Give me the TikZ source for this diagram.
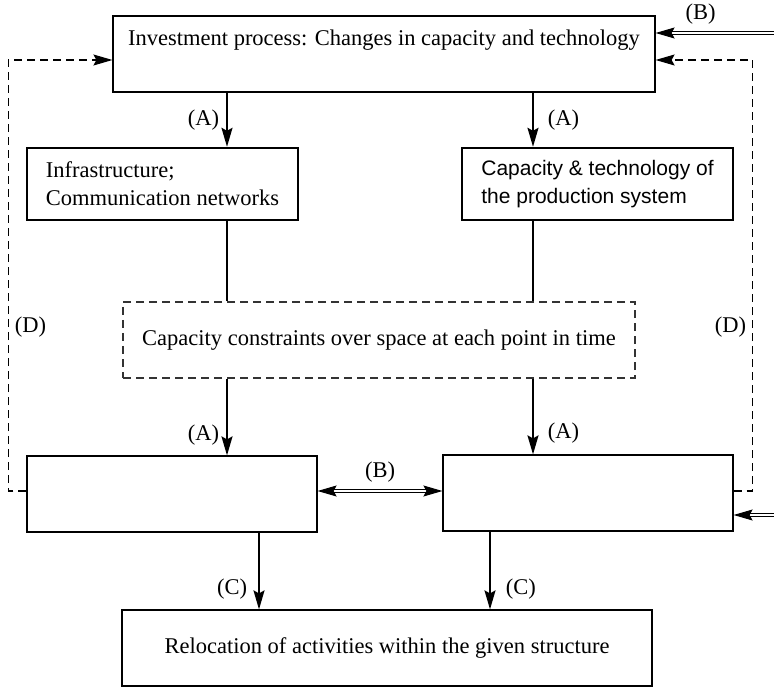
\documentclass[tikz,border=0pt]{standalone}
\usepackage{fontspec}
\setmainfont{Liberation Serif}
\setsansfont{Liberation Sans}
\usetikzlibrary{arrows.meta,positioning}

\begin{document}
\begin{tikzpicture}[
    x=1pt, y=-1pt,
    box/.style={draw, line width=1.2pt, minimum width=#1, minimum height=76pt, inner sep=0pt, align=center, font=\fontsize{22.5}{28}\selectfont},
    heavy/.style={line width=2.4pt, minimum height=72pt, align=left},
    lbl/.style={font=\fontsize{22.5}{28}\selectfont, inner sep=2pt},
    arr/.style={-{Stealth[length=19pt, width=11pt, inset=3pt]}, line width=1.8pt},
    link/.style={line width=1.1pt},
    dblarr/.style={-{Stealth[length=19pt, width=11pt, inset=3pt]}, double, double distance=1.6pt, line width=1pt},
    dasharr/.style={-{Stealth[length=19pt, width=11pt, inset=3pt]}, line width=1.1pt, dash pattern=on 8pt off 5pt}
]
\useasboundingbox (0,0) rectangle (774,687);

\node[box=542pt, text depth=33pt] (invest) at (384,54) {Investment process: Changes in capacity and technology};
\node[box=271pt, heavy] (infra) at (162.5,184) {Infrastructure;\\Communication networks};
\node[box=271pt, heavy, font=\sffamily\fontsize{21}{28}\selectfont] (prod) at (597.5,184) {Capacity \& technology of\\the production system};
\node[box=512pt, dash pattern=on 8pt off 5pt, draw=black!80] (constr) at (379,340) {Capacity constraints over space at each point in time};
\node[box=290pt] (left) at (172,494) {};
\node[box=290pt] (right) at (588,493) {};
\node[box=530pt] (reloc) at (387,648) {Relocation of activities within the given structure};

% columns of the connectors
\coordinate (colL) at (227,0);
\coordinate (colR) at (533,0);
\coordinate (colCL) at (259,0);
\coordinate (colCR) at (490,0);
\coordinate (bTop) at (774,33);
\coordinate (bRight) at (774,515);

\draw[arr] (invest.south -| colL) -- (infra.north -| colL) node[lbl, midway, left=5pt] {(A)};
\draw[arr] (invest.south -| colR) -- (prod.north -| colR) node[lbl, midway, right=12pt] {(A)};
\draw[link] (infra.south -| colL) -- (constr.north -| colL);
\draw[link] (prod.south -| colR) -- (constr.north -| colR);
\draw[arr] (constr.south -| colL) -- (left.north -| colL) node[lbl, pos=0.74, left=5pt] {(A)};
\draw[arr] (constr.south -| colR) -- (right.north -| colR) node[lbl, pos=0.72, right=12pt] {(A)};
\draw[arr] (left.south -| colCL) -- (reloc.north -| colCL) node[lbl, pos=0.74, left=9pt] {(C)};
\draw[arr] (right.south -| colCR) -- (reloc.north -| colCR) node[lbl, pos=0.74, right=13pt] {(C)};

\draw[dblarr, {Stealth[length=19pt, width=11pt, inset=3pt]}-{Stealth[length=19pt, width=11pt, inset=3pt]}]
    ([yshift=3pt]left.east) -- ([yshift=3pt]left.east -| right.west) node[lbl, midway, above=6pt] {(B)};
\draw[dblarr] (bTop) -- (bTop -| invest.east) node[lbl, pos=0.62, above=6pt] {(B)};
\draw[dblarr] (bRight) -- (bRight -| right.east);

\draw[dasharr] ([yshift=3pt]left.west) -- ++(-18,0) |- ([yshift=-6pt]invest.west) node[lbl, pos=0.19, right=4pt] {(D)};
\draw[dasharr] ([yshift=2pt]right.east) -- ++(19,0) |- ([yshift=-6pt]invest.east) node[lbl, pos=0.19, left=4pt] {(D)};
\end{tikzpicture}
\end{document}
